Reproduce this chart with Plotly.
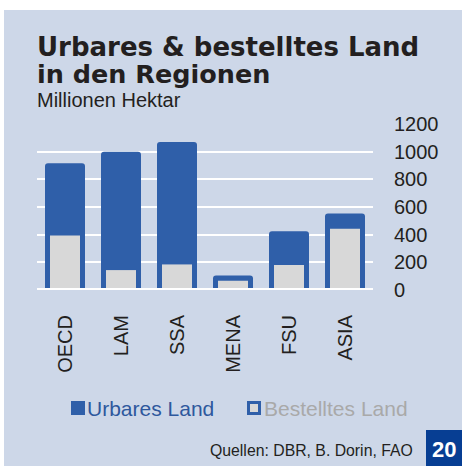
import plotly.graph_objects as go

regions = ["OECD", "LAM", "SSA", "MENA", "FSU", "ASIA"]
urbares_land = [917, 1000, 1070, 105, 424, 553]
bestelltes_land = [395, 144, 185, 67, 181, 443]
y_ticks = [0, 200, 400, 600, 800, 1000, 1200]

BG = "#cdd7e8"
BLUE = "#2f5fa9"
GRAY = "#d8d8d8"
DARK = "#231f20"
W, H = 462, 466
L, R, T, B = 37, 373, 124, 290


def px(x):
    return (x - L) / (R - L)


def py(y):
    return (B - y) / (B - T)


fig = go.Figure()
fig.add_trace(go.Bar(x=regions, y=urbares_land, name="Urbares Land", width=40 / 56,
                     marker=dict(color=BLUE, line=dict(width=0), cornerradius=3),
                     hoverinfo="y"))
fig.add_trace(go.Bar(x=regions, y=bestelltes_land, name="Bestelltes Land", width=30 / 56,
                     marker=dict(color=GRAY, line=dict(width=0)),
                     hoverinfo="y"))

shapes = [
    dict(type="rect", xref="paper", yref="paper", x0=px(4), x1=px(W + 2), y0=py(10), y1=py(H + 2),
         fillcolor=BG, line=dict(width=0), layer="below"),
    dict(type="line", xref="paper", yref="y", x0=0, x1=1, y0=0, y1=0,
         line=dict(color="white", width=4), layer="above"),
    # legend
    dict(type="rect", xref="paper", yref="paper", x0=px(71), x1=px(85), y0=py(415), y1=py(401),
         fillcolor=BLUE, line=dict(width=0)),
    dict(type="rect", xref="paper", yref="paper", x0=px(247), x1=px(261), y0=py(415), y1=py(401),
         fillcolor=BLUE, line=dict(width=0)),
    dict(type="rect", xref="paper", yref="paper", x0=px(250), x1=px(258), y0=py(412), y1=py(404),
         fillcolor=GRAY, line=dict(width=0)),
    # page number box
    dict(type="rect", xref="paper", yref="paper", x0=px(426), x1=px(W + 2), y0=py(H + 2), y1=py(430),
         fillcolor="#073e93", line=dict(width=0)),
]

annotations = [
    dict(text="<b>Urbares &amp; bestelltes Land</b>", x=px(35), y=py(47), xanchor="left", yanchor="middle",
         font=dict(family="DejaVu Sans", size=26, color=DARK)),
    dict(text="<b>in den Regionen</b>", x=px(35), y=py(74), xanchor="left", yanchor="middle",
         font=dict(family="DejaVu Sans", size=25.5, color=DARK)),
    dict(text="Millionen Hektar", x=px(35), y=py(100), xanchor="left", yanchor="middle",
         font=dict(family="Liberation Sans", size=20, color=DARK)),
    dict(text="Urbares Land", x=px(85), y=py(408), xanchor="left", yanchor="middle",
         font=dict(family="Liberation Sans", size=21, color="#2d589d")),
    dict(text="Bestelltes Land", x=px(262), y=py(408), xanchor="left", yanchor="middle",
         font=dict(family="Liberation Sans", size=21, color="#a9a9a9")),
    dict(text="Quellen: DBR, B. Dorin, FAO", x=px(415), y=py(450), xanchor="right", yanchor="middle",
         font=dict(family="Liberation Sans", size=15.8, color=DARK)),
    dict(text="<b>20</b>", x=px(444), y=py(449), xanchor="center", yanchor="middle",
         font=dict(family="Liberation Sans", size=22, color="white")),
]
for a in annotations:
    a.update(xref="paper", yref="paper", showarrow=False)

fig.update_layout(
    width=W, height=H,
    margin=dict(l=L, r=W - R, t=T, b=H - B, pad=0),
    paper_bgcolor="white",
    plot_bgcolor="rgba(0,0,0,0)",
    barmode="overlay",
    showlegend=False,
    shapes=shapes,
    annotations=annotations,
    font=dict(family="Liberation Sans", color=DARK),
    xaxis=dict(showgrid=False, zeroline=False, showline=False, ticks="",
               tickangle=-90, tickfont=dict(size=20, color=DARK),
               ticklabelstandoff=20),
    yaxis=dict(side="right", range=[0, 1200.5], tickvals=y_ticks, showgrid=True,
               gridcolor="white", gridwidth=2, zeroline=False, showline=False, ticks="",
               tickfont=dict(size=20, color=DARK), ticklabelstandoff=20),
)

fig.write_html("out.html", config={"displayModeBar": False},
               post_script="document.body.style.margin='0';")
